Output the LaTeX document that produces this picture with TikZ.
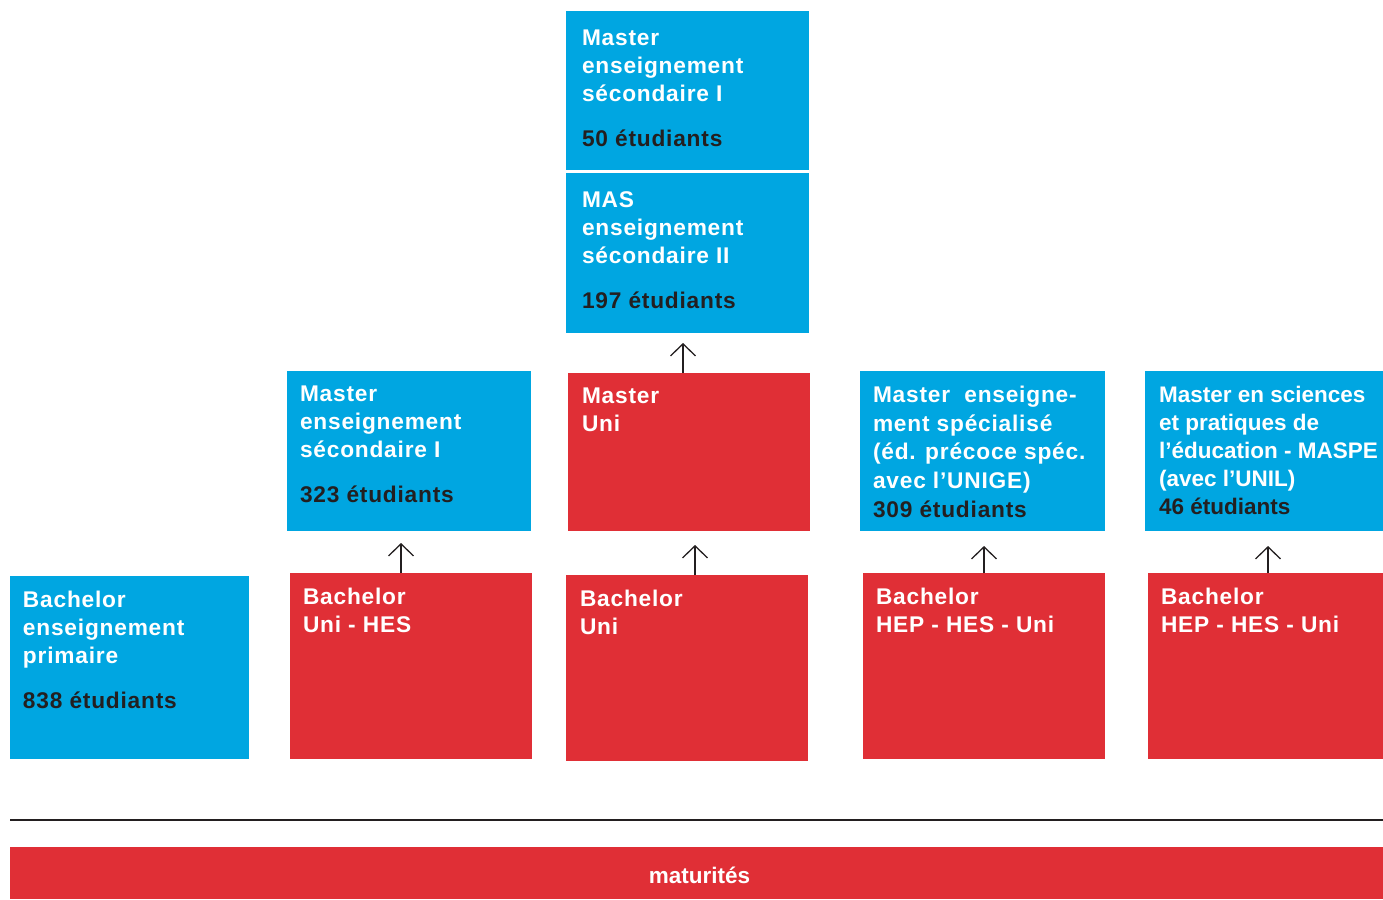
\documentclass[tikz,border=0pt]{standalone}
\usepackage{fontspec}
\setmainfont{Liberation Sans}
\newfontfamily\widefont[LetterSpace=3.5]{Liberation Sans}
\usetikzlibrary{arrows.meta,calc}
\definecolor{cblue}{HTML}{00A6E1}
\definecolor{cred}{HTML}{E02F36}
\definecolor{cdark}{HTML}{231F20}
\tikzset{
  box/.style={draw=none, inner sep=0pt, outer sep=0pt, anchor=north west},
  bluebox/.style={box, fill=cblue},
  redbox/.style={box, fill=cred},
  lbl/.style={anchor=north west, inner sep=0pt, outer sep=0pt, align=left, text=white,
    font=\widefont\fontsize{22.7}{28}\selectfont\bfseries},
  lblb/.style={lbl, font=\widefont\fontsize{22.7}{28.7}\selectfont\bfseries},
  lbln/.style={lbl, font=\fontsize{22.5}{28}\selectfont\bfseries},
  arr/.style={-{Straight Barb[length=12pt,width=25pt]}, line width=1.3pt, draw=cdark},
  sepline/.style={line width=2.6pt, draw=cdark},
}
\newcommand{\cnt}[1]{\textcolor{cdark}{#1}}
\begin{document}
\begin{tikzpicture}[x=1pt,y=-1pt]
\useasboundingbox (0,0) rectangle (1383,899);
% top column
\node[bluebox, minimum width=243pt, minimum height=159pt] (ms1) at (566,11) {};
\node[lbl] (ms1t) at ([xshift=16pt,yshift=-19pt]ms1.north west) {Master\\enseignement\\sécondaire I\\[17pt]\cnt{50 étudiants}};
\node[bluebox, minimum width=243pt, minimum height=160pt] (mas) at (566,173) {};
\node[lbl] (mast) at ([xshift=16pt,yshift=-19pt]mas.north west) {MAS\\enseignement\\sécondaire II\\[17pt]\cnt{197 étudiants}};
% master row
\node[bluebox, minimum width=244pt, minimum height=160pt] (msec) at (287,371) {};
\node[lbl] (msect) at ([xshift=13pt,yshift=-15pt]msec.north west) {Master\\enseignement\\sécondaire I\\[17pt]\cnt{323 étudiants}};
\node[redbox, minimum width=242pt, minimum height=158pt] (muni) at (568,373) {};
\node[lbl] (munit) at ([xshift=14pt,yshift=-15pt]muni.north west) {Master\\Uni};
\node[bluebox, minimum width=245pt, minimum height=160pt] (mspe) at (860,371) {};
\node[lblb] (mspet) at ([xshift=13pt,yshift=-15pt]mspe.north west) {Master~~enseigne-\\ment spécialisé\\(éd. précoce spéc.\\avec l’UNIGE)\\\cnt{309 étudiants}};
\node[bluebox, minimum width=238pt, minimum height=160pt] (maspe) at (1145,371) {};
\node[lbln] (maspet) at ([xshift=14pt,yshift=-15pt]maspe.north west) {Master en sciences\\et pratiques de\\l’éducation - MASPE\\(avec l’UNIL)\\\cnt{46 étudiants}};
% bachelor row
\node[bluebox, minimum width=239pt, minimum height=183pt] (bprim) at (10,576) {};
\node[lbl] (bprimt) at ([xshift=13pt,yshift=-15pt]bprim.north west) {Bachelor\\enseignement\\primaire\\[17pt]\cnt{838 étudiants}};
\node[redbox, minimum width=242pt, minimum height=186pt] (bhes) at (290,573) {};
\node[lbl] (bhest) at ([xshift=13pt,yshift=-15pt]bhes.north west) {Bachelor\\Uni - HES};
\node[redbox, minimum width=242pt, minimum height=186pt] (buni) at (566,575) {};
\node[lbl] (bunit) at ([xshift=14pt,yshift=-15pt]buni.north west) {Bachelor\\Uni};
\node[redbox, minimum width=242pt, minimum height=186pt] (bhep) at (863,573) {};
\node[lbl] (bhept) at ([xshift=13pt,yshift=-15pt]bhep.north west) {Bachelor\\HEP - HES - Uni};
\node[redbox, minimum width=235pt, minimum height=186pt] (bhepb) at (1148,573) {};
\node[lbl] (bhepbt) at ([xshift=13pt,yshift=-15pt]bhepb.north west) {Bachelor\\HEP - HES - Uni};
% arrows
\draw[arr] ([xshift=-6pt]muni.north) -- ([xshift=-4.5pt,yshift=-10pt]mas.south);
\draw[arr] ([xshift=-10pt]bhes.north) -- ([xshift=-8pt,yshift=-12pt]msec.south);
\draw[arr] ([xshift=8pt]buni.north) -- ([xshift=6pt,yshift=-14pt]muni.south);
\draw[arr] ([xshift=0pt]bhep.north) -- ([xshift=1.5pt,yshift=-15pt]mspe.south);
\draw[arr] ([xshift=2.5pt]bhepb.north) -- ([xshift=4pt,yshift=-15pt]maspe.south);
% separator and maturites
\coordinate (sepL) at (10,820);
\coordinate (sepR) at (1383,820);
\draw[sepline] (sepL) -- (sepR);
\node[redbox, minimum width=1373pt, minimum height=52pt] (mat) at (10,847) {};
\node[text=white, inner sep=0pt, font=\fontsize{22.5}{28}\selectfont\bfseries] (matt) at ([xshift=3pt,yshift=-2pt]mat.center) {maturités};
\end{tikzpicture}
\end{document}
